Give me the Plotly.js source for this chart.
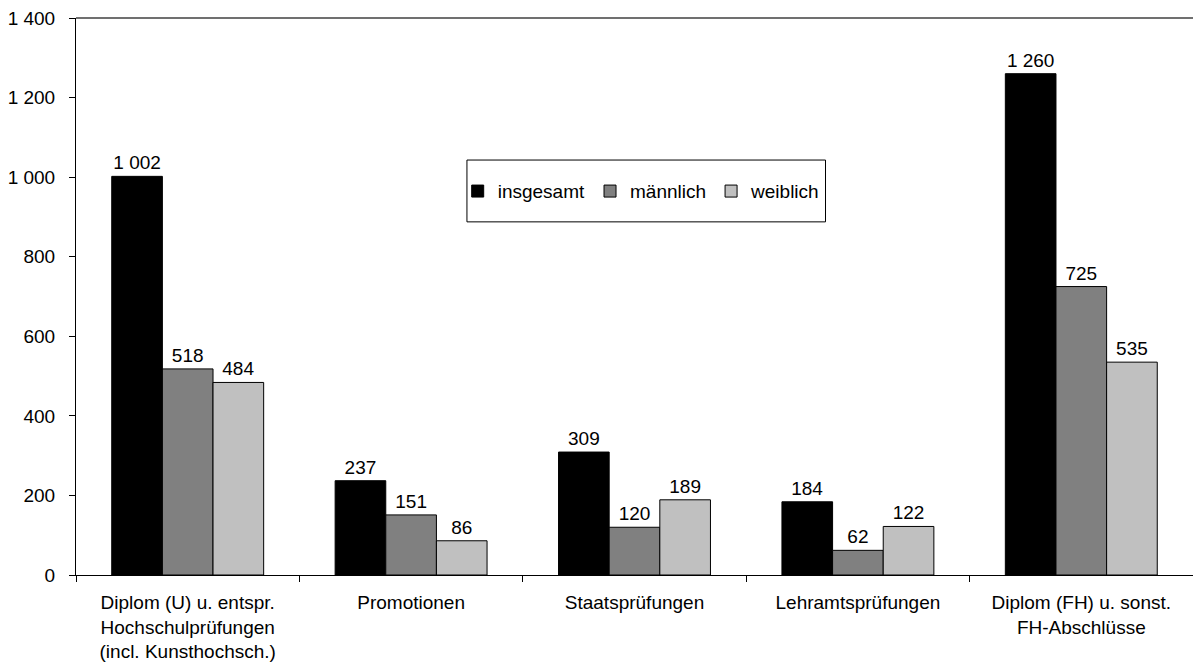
<!DOCTYPE html>
<html>
<head>
<meta charset="utf-8">
<script src="https://cdn.plot.ly/plotly-3.0.1.min.js"></script>
<style>html,body{margin:0;padding:0;background:#fff;}#chart{width:1193px;height:668px;}</style>
</head>
<body>
<div id="chart"></div>
<script>
const categories = [
  "Diplom (U) u. entspr.<br>Hochschulprüfungen<br>(incl. Kunsthochsch.)",
  "Promotionen",
  "Staatsprüfungen",
  "Lehramtsprüfungen",
  "Diplom (FH) u. sonst.<br>FH-Abschlüsse"
];
const seriesNames = ["insgesamt", "männlich", "weiblich"];
const insgesamt = [1002, 237, 309, 184, 1260];
const maennlich = [518, 151, 120, 62, 725];
const weiblich = [484, 86, 189, 122, 535];
const colors = ["#000000", "#808080", "#c0c0c0"];

const fontFam = "Liberation Sans, Arial, sans-serif";
const fs = 19;
const data = [insgesamt, maennlich, weiblich].map((vals, i) => ({
  type: "bar",
  name: seriesNames[i],
  x: categories,
  y: vals,
  texttemplate: "%{y:,}",
  textposition: "outside",
  cliponaxis: false,
  textfont: {family: fontFam, size: fs, color: "#000"},
  marker: {color: colors[i], line: {color: "#000", width: 1}}
}));

const layout = {
  width: 1193, height: 668,
  margin: {l: 76, r: 0, t: 18, b: 93},
  paper_bgcolor: "#fff", plot_bgcolor: "#fff",
  separators: ", ",
  font: {family: fontFam, size: fs, color: "#000"},
  barmode: "group",
  bargap: 0.32,
  bargroupgap: 0,
  showlegend: true,
  legend: {
    orientation: "h",
    x: 0.506, y: 0.689, xanchor: "center", yanchor: "middle",
    bgcolor: "rgba(0,0,0,0)", borderwidth: 0,
    font: {family: fontFam, size: fs, color: "#000"},
    itemwidth: 30, tracegroupgap: 0
  },
  xaxis: {
    type: "category",
    showline: true, linecolor: "#000", linewidth: 1,
    ticks: "outside", tickson: "boundaries", ticklen: 6, tickcolor: "#000",
    ticklabelstandoff: 10,
    showgrid: false, zeroline: false,
    tickfont: {family: fontFam, size: fs, color: "#000"}
  },
  yaxis: {
    range: [0, 1400], dtick: 200, tick0: 0,
    tickformat: ",",
    showline: true, linecolor: "#000", linewidth: 1,
    ticks: "outside", ticklen: 6, tickcolor: "#000",
    ticklabelstandoff: 10,
    showgrid: false, zeroline: false,
    tickfont: {family: fontFam, size: fs, color: "#000"}
  },
  shapes: [
    {type: "line", xref: "paper", yref: "paper", x0: 0, x1: 1, y0: 1, y1: 1,
     line: {color: "#404040", width: 1.5}},
    {type: "rect", xref: "paper", yref: "paper", x0: 0.35, x1: 0.671, y0: 0.634, y1: 0.745,
     line: {color: "#000", width: 1}, fillcolor: "rgba(0,0,0,0)", layer: "above"}
  ]
};

Plotly.newPlot("chart", data, layout, {displayModeBar: false, staticPlot: true});
</script>
</body>
</html>
